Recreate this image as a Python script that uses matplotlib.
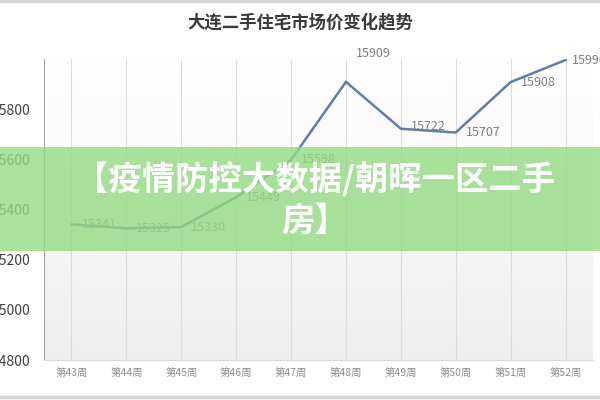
import numpy as np
import matplotlib
matplotlib.use('Agg')
from matplotlib import pyplot as plt
from matplotlib.patches import Rectangle
from matplotlib.lines import Line2D

plt.rcParams['font.family'] = ['Noto Sans CJK SC', 'DejaVu Sans']

# --- dati ---
weeks = ['第43周', '第44周', '第45周', '第46周', '第47周',
         '第48周', '第49周', '第50周', '第51周', '第52周']
prices = [15341, 15325, 15330, 15449, 15598, 15909, 15722, 15707, 15908, 15996]
y_ticks = [14800, 15000, 15200, 15400, 15600, 15800]
title = '大连二手住宅市场价变化趋势'
banner = '【疫情防控大数据/朝晖一区二手\n房】'

# offset etichette (pixel)
label_offsets = [(10, 0)] * 5 + [(10, 28), (10, 2), (10, 0), (10, 0), (6, 0)]

fig = plt.figure(figsize=(6, 4), dpi=100)
fig.patch.set_facecolor('white')
ax = fig.add_axes([44 / 600, 40 / 400, 549 / 600, 301 / 400])

x = np.arange(len(weeks))
ax.set_xlim(-0.5, len(weeks) - 0.5)
ax.set_ylim(14800, 16000)

# sfondo sfumato
grad = np.linspace(1.0, 0.0, 256).reshape(-1, 1)
ax.imshow(grad, extent=[-0.5, len(weeks) - 0.5, 14800, 16000], aspect='auto',
          cmap=matplotlib.colors.LinearSegmentedColormap.from_list('g', ['#efefef', '#ffffff']),
          zorder=0)

for xi in x:
    ax.axvline(xi, color='#dcdcdc', lw=0.8, zorder=1)

ax.plot(x, prices, color='#5a80ad', lw=1.8, zorder=3)

for xi, p, (dx, dy) in zip(x, prices, label_offsets):
    ax.annotate(str(p), (xi, p), xytext=(dx * 0.72, dy * 0.72), textcoords='offset points',
                ha='left', va='center', fontsize=9, color='#7f7f7f', zorder=4,
                annotation_clip=False)

ax.set_xticks(x)
ax.set_xticklabels(weeks, fontsize=7.5, color='#8c8c8c')
ax.set_yticks(y_ticks)
ax.set_yticklabels([str(v) for v in y_ticks], fontsize=10, color='#404040')
ax.tick_params(axis='both', length=0)
ax.tick_params(axis='y', pad=10)
ax.tick_params(axis='x', pad=6)

for s in ['top', 'right']:
    ax.spines[s].set_visible(False)
ax.spines['left'].set_color('#a6a6a6')
ax.spines['bottom'].set_color('#d9d9d9')

fig.text(0.5, 1 - 22 / 400, title, ha='center', va='center', fontsize=12.5,
         color='#3a3a3a', fontweight='bold')

# bordi grigi
fig.add_artist(Line2D([0, 1], [1 - 1 / 400, 1 - 1 / 400], color='#d4d4d4', lw=2.5))
fig.add_artist(Line2D([0, 1], [3 / 400, 3 / 400], color='#d4d4d4', lw=2.5))

# banda verde
fig.add_artist(Rectangle((0, 1 - 251 / 400), 1, 104 / 400, transform=fig.transFigure,
                         facecolor='#93db82', alpha=0.8, edgecolor='none', zorder=10))
fig.text(0.525, 1 - 200 / 400, banner, ha='center', va='center', fontsize=24,
         color='white', fontweight='bold', linespacing=1.25, zorder=11)

fig.savefig('out.png', dpi=100)
